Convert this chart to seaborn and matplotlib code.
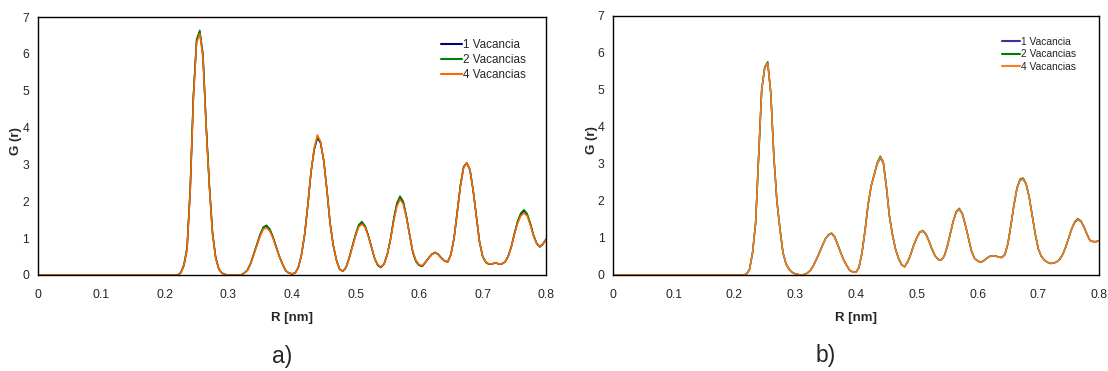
import numpy as np
import pandas as pd
import matplotlib
matplotlib.use('Agg')
import matplotlib.pyplot as plt
import seaborn as sns

# R [nm]: one point at the origin, then every 0.005 nm from 0.215 to 0.8
r = np.concatenate([[0.0], np.round(np.arange(0.215, 0.8001, 0.005), 3)])

series_names = ['1 Vacancia', '2 Vacancias', '4 Vacancias']

# panel a)
g_a_1 = [0, 0, 0, 0.05, 0.25, 0.7, 2.3, 4.85, 6.35, 6.6, 5.95, 4.05, 2.45, 1.15, 0.47, 0.16, 0.05, 0.01,
         0, 0, 0, 0, 0, 0.05, 0.13, 0.31, 0.57, 0.83, 1.09, 1.29, 1.33, 1.24, 1.03, 0.77, 0.51, 0.3, 0.12, 0.05,
         0.03, 0.05, 0.2, 0.55, 1.1, 1.9, 2.8, 3.4, 3.72, 3.58, 3.1, 2.3, 1.4, 0.8, 0.4, 0.15,
         0.1, 0.2, 0.46, 0.77, 1.08, 1.34, 1.42, 1.32, 1.07, 0.76, 0.45, 0.26, 0.2, 0.3, 0.56, 0.97,
         1.5, 1.92, 2.1, 1.98, 1.58, 1.1, 0.62, 0.37, 0.26, 0.23, 0.34, 0.46, 0.56, 0.61, 0.56, 0.46,
         0.38, 0.35, 0.55, 1.0, 1.7, 2.42, 2.92, 3.03, 2.85, 2.3, 1.6, 0.9, 0.5, 0.34, 0.29, 0.3, 0.33,
         0.3, 0.3, 0.35, 0.5, 0.76, 1.12, 1.44, 1.65, 1.74, 1.64, 1.38, 1.07, 0.85, 0.76, 0.84, 0.97]
g_a_2 = [0, 0, 0, 0.06, 0.28, 0.75, 2.4, 4.9, 6.4, 6.64, 6.0, 4.1, 2.45, 1.15, 0.47, 0.16, 0.05, 0.01,
         0, 0, 0, 0, 0, 0.05, 0.13, 0.31, 0.57, 0.84, 1.1, 1.3, 1.35, 1.25, 1.04, 0.77, 0.51, 0.3, 0.12, 0.05,
         0.03, 0.05, 0.2, 0.55, 1.1, 1.9, 2.8, 3.42, 3.74, 3.6, 3.1, 2.3, 1.4, 0.8, 0.4, 0.15,
         0.1, 0.2, 0.46, 0.78, 1.1, 1.36, 1.45, 1.33, 1.08, 0.76, 0.45, 0.26, 0.21, 0.3, 0.56, 0.97,
         1.5, 1.95, 2.14, 2.0, 1.6, 1.1, 0.62, 0.37, 0.27, 0.24, 0.35, 0.46, 0.56, 0.61, 0.56, 0.46,
         0.38, 0.35, 0.55, 1.0, 1.72, 2.44, 2.94, 3.05, 2.86, 2.3, 1.6, 0.9, 0.5, 0.34, 0.29, 0.3, 0.33,
         0.3, 0.3, 0.35, 0.5, 0.77, 1.13, 1.46, 1.68, 1.77, 1.66, 1.4, 1.08, 0.86, 0.77, 0.85, 0.98]
g_a_4 = [0, 0, 0, 0.05, 0.25, 0.7, 2.3, 4.8, 6.3, 6.55, 5.9, 4.0, 2.4, 1.1, 0.45, 0.15, 0.05, 0.01,
         0, 0, 0, 0, 0, 0.05, 0.12, 0.3, 0.55, 0.8, 1.05, 1.24, 1.28, 1.19, 1.0, 0.75, 0.5, 0.3, 0.12, 0.05,
         0.03, 0.05, 0.2, 0.55, 1.1, 1.9, 2.8, 3.45, 3.8, 3.62, 3.1, 2.3, 1.4, 0.8, 0.4, 0.15,
         0.1, 0.2, 0.45, 0.75, 1.05, 1.3, 1.38, 1.29, 1.05, 0.75, 0.45, 0.28, 0.22, 0.3, 0.55, 0.95,
         1.45, 1.85, 2.05, 1.92, 1.55, 1.1, 0.65, 0.4, 0.28, 0.25, 0.35, 0.45, 0.55, 0.6, 0.55, 0.45,
         0.38, 0.35, 0.55, 1.0, 1.7, 2.4, 2.9, 3.05, 2.85, 2.3, 1.6, 0.9, 0.5, 0.35, 0.3, 0.3, 0.33,
         0.3, 0.3, 0.35, 0.5, 0.75, 1.1, 1.4, 1.6, 1.68, 1.6, 1.35, 1.05, 0.85, 0.78, 0.85, 0.97]

# panel b)
g_b_1 = [0, 0, 0.02, 0.15, 0.6, 1.4, 3.2, 5.0, 5.6, 5.72, 4.9, 3.2, 2.0, 1.25, 0.6, 0.3, 0.15, 0.07,
         0.03, 0.01, 0, 0.01, 0.05, 0.12, 0.25, 0.42, 0.6, 0.8, 0.98, 1.08, 1.12, 1.02, 0.82, 0.6, 0.4, 0.25, 0.12, 0.08,
         0.07, 0.2, 0.6, 1.2, 1.9, 2.4, 2.7, 3.0, 3.16, 3.03, 2.4, 1.6, 1.1, 0.7, 0.45, 0.28,
         0.22, 0.35, 0.55, 0.8, 1.0, 1.15, 1.18, 1.1, 0.92, 0.7, 0.52, 0.42, 0.4, 0.5, 0.75, 1.1,
         1.45, 1.7, 1.77, 1.65, 1.35, 1.0, 0.65, 0.45, 0.38, 0.34, 0.38, 0.45, 0.5, 0.52, 0.51, 0.48,
         0.47, 0.55, 0.85, 1.35, 1.9, 2.35, 2.56, 2.59, 2.45, 2.1, 1.6, 1.1, 0.7, 0.5, 0.4, 0.34, 0.31,
         0.32, 0.35, 0.42, 0.55, 0.75, 1.0, 1.25, 1.42, 1.49, 1.45, 1.3, 1.1, 0.93, 0.9, 0.9, 0.92]
g_b_2 = [0, 0, 0.02, 0.15, 0.6, 1.4, 3.2, 5.0, 5.62, 5.76, 4.92, 3.2, 2.0, 1.25, 0.6, 0.3, 0.15, 0.07,
         0.03, 0.01, 0, 0.01, 0.05, 0.12, 0.25, 0.42, 0.6, 0.8, 0.98, 1.09, 1.13, 1.03, 0.82, 0.6, 0.4, 0.25, 0.12, 0.08,
         0.07, 0.2, 0.6, 1.2, 1.9, 2.4, 2.72, 3.03, 3.21, 3.06, 2.4, 1.6, 1.1, 0.7, 0.45, 0.28,
         0.22, 0.35, 0.55, 0.8, 1.0, 1.16, 1.2, 1.11, 0.92, 0.7, 0.52, 0.42, 0.4, 0.5, 0.75, 1.1,
         1.45, 1.71, 1.8, 1.66, 1.35, 1.0, 0.65, 0.45, 0.38, 0.34, 0.38, 0.45, 0.5, 0.52, 0.51, 0.48,
         0.47, 0.55, 0.85, 1.35, 1.9, 2.36, 2.59, 2.62, 2.46, 2.1, 1.6, 1.1, 0.7, 0.5, 0.4, 0.34, 0.31,
         0.32, 0.35, 0.42, 0.55, 0.75, 1.0, 1.26, 1.44, 1.52, 1.46, 1.3, 1.1, 0.93, 0.9, 0.9, 0.92]
g_b_4 = [0, 0, 0.02, 0.15, 0.6, 1.4, 3.2, 5.0, 5.6, 5.72, 4.9, 3.2, 2.0, 1.25, 0.6, 0.3, 0.15, 0.07,
         0.03, 0.01, 0, 0.01, 0.05, 0.12, 0.25, 0.42, 0.6, 0.8, 0.98, 1.08, 1.12, 1.02, 0.82, 0.6, 0.4, 0.25, 0.12, 0.08,
         0.07, 0.2, 0.6, 1.2, 1.9, 2.4, 2.7, 3.0, 3.18, 3.05, 2.4, 1.6, 1.1, 0.7, 0.45, 0.28,
         0.22, 0.35, 0.55, 0.8, 1.0, 1.15, 1.19, 1.1, 0.92, 0.7, 0.52, 0.42, 0.4, 0.5, 0.75, 1.1,
         1.45, 1.7, 1.78, 1.65, 1.35, 1.0, 0.65, 0.45, 0.38, 0.34, 0.38, 0.45, 0.5, 0.52, 0.51, 0.48,
         0.47, 0.55, 0.85, 1.35, 1.9, 2.35, 2.57, 2.6, 2.45, 2.1, 1.6, 1.1, 0.7, 0.5, 0.4, 0.34, 0.31,
         0.32, 0.35, 0.42, 0.55, 0.75, 1.0, 1.25, 1.42, 1.5, 1.45, 1.3, 1.1, 0.93, 0.9, 0.9, 0.92]

x_ticks = [0, 0.1, 0.2, 0.3, 0.4, 0.5, 0.6, 0.7, 0.8]
x_tick_labels = ['0', '0.1', '0.2', '0.3', '0.4', '0.5', '0.6', '0.7', '0.8']
y_ticks = [0, 1, 2, 3, 4, 5, 6, 7]
panel_labels = ['a)', 'b)']


def long_form(values):
    frames = []
    for name, g in zip(series_names, values):
        frames.append(pd.DataFrame({'r': r, 'G': g, 'serie': name}))
    return pd.concat(frames, ignore_index=True)


def draw_panel(ax, df, palette, legend_anchor, legend_size, ylabel_pad):
    sns.lineplot(data=df, x='r', y='G', hue='serie', palette=palette,
                 linewidth=1.1, ax=ax, estimator=None, sort=False)
    ax.set_xlim(0, 0.8)
    ax.set_ylim(0, 7)
    ax.set_xticks(x_ticks)
    ax.set_xticklabels(x_tick_labels)
    ax.set_yticks(y_ticks)
    ax.tick_params(axis='x', direction='out', length=3, width=0.8, labelsize=8.7, color='black', pad=7)
    ax.tick_params(axis='y', direction='out', length=3, width=0.8, labelsize=8.7, color='black', pad=3)
    ax.set_xlabel('R [nm]', fontsize=9.5, fontweight='bold', labelpad=8)
    ax.set_ylabel('G (r)', fontsize=9.5, fontweight='bold', labelpad=ylabel_pad, y=0.52)
    ax.grid(False)
    for s in ax.spines.values():
        s.set_visible(True)
        s.set_color('black')
        s.set_linewidth(1.0)
    leg = ax.legend(loc='upper left', bbox_to_anchor=legend_anchor, frameon=False,
                    fontsize=legend_size, handlelength=1.8, handletextpad=0.1, labelspacing=0.25,
                    borderaxespad=0, borderpad=0)
    for line in leg.get_lines():
        line.set_linewidth(1.5)


def main():
    sns.set_theme(style='white')
    plt.rcParams['font.family'] = ['Liberation Sans Narrow', 'Liberation Sans', 'DejaVu Sans']

    fig = plt.figure(figsize=(11.08, 3.71), dpi=100)
    ax_a = fig.add_axes([0.034, 0.259, 0.459, 0.695])
    ax_b = fig.add_axes([0.553, 0.259, 0.439, 0.698])

    draw_panel(ax_a, long_form([g_a_1, g_a_2, g_a_4]),
               {'1 Vacancia': '#000080', '2 Vacancias': '#008000', '4 Vacancias': '#ff6600'},
               (0.793, 0.915), 8.4, 0)
    draw_panel(ax_b, long_form([g_b_1, g_b_2, g_b_4]),
               {'1 Vacancia': '#333399', '2 Vacancias': '#008000', '4 Vacancias': '#ff7a20'},
               (0.800, 0.92), 7.4, 0)

    fig.text(0.255, 0.04, panel_labels[0], fontsize=16.5, family=['Liberation Sans', 'DejaVu Sans'],
             ha='center', va='center')
    fig.text(0.745, 0.042, panel_labels[1], fontsize=16.5, family=['Liberation Sans', 'DejaVu Sans'],
             ha='center', va='center')

    fig.savefig('out.png', dpi=100, facecolor='white')
    plt.close(fig)


if __name__ == '__main__':
    main()
